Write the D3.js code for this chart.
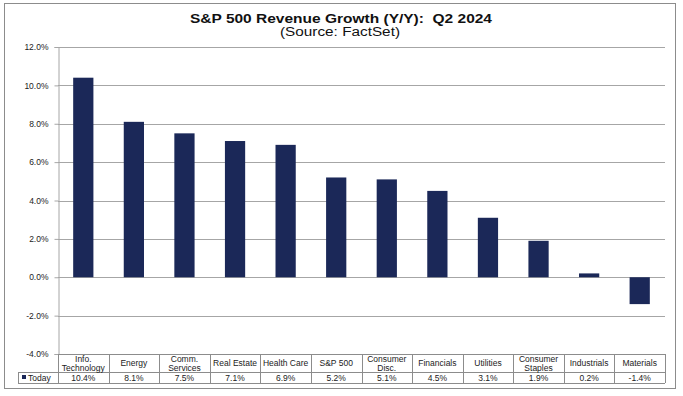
<!DOCTYPE html>
<html><head><meta charset="utf-8">
<script src="https://cdn.jsdelivr.net/npm/d3@7"></script>
<style>body{margin:0;background:#fff}svg{display:block;font-family:"Liberation Sans",Arial,sans-serif}</style>
</head><body><svg id="c" width="683" height="396"></svg>
<script>
const categories = [["Info.","Technology"],["Energy"],["Comm.","Services"],["Real Estate"],["Health Care"],["S&P 500"],["Consumer","Disc."],["Financials"],["Utilities"],["Consumer","Staples"],["Industrials"],["Materials"]];
const values = [10.4, 8.1, 7.5, 7.1, 6.9, 5.2, 5.1, 4.5, 3.1, 1.9, 0.2, -1.4];
const valueLabels = ["10.4%","8.1%","7.5%","7.1%","6.9%","5.2%","5.1%","4.5%","3.1%","1.9%","0.2%","-1.4%"];
const yTicks = [-4, -2, 0, 2, 4, 6, 8, 10, 12];
const seriesName = "Today";
const title = "S&P 500 Revenue Growth (Y/Y):  Q2 2024";
const subtitle = "(Source: FactSet)";

const svg = d3.select("#c");
const L = 58, R = 665, T = 47, B = 354;
const barColor = "#1b2858", grid = "#a6a6a6";

svg.append("rect").attr("x",4.5).attr("y",3.5).attr("width",671).attr("height",385)
  .attr("fill","#fff").attr("stroke","#8c8c8c");

svg.append("text").attr("x",341).attr("y",22.5).attr("text-anchor","middle")
  .attr("font-size",13.5).attr("font-weight","bold").attr("fill","#111")
  .style("white-space","pre").attr("textLength",302).attr("lengthAdjust","spacingAndGlyphs").text(title);
svg.append("text").attr("x",340).attr("y",36).attr("text-anchor","middle")
  .attr("font-size",12.5).attr("fill","#111")
  .attr("textLength",120).attr("lengthAdjust","spacingAndGlyphs").text(subtitle);

const x = d3.scaleBand().domain(d3.range(values.length)).range([L, R]).paddingInner(0.6).paddingOuter(0.3);
const xc = d3.scaleBand().domain(d3.range(values.length)).range([L, R]);
const y = d3.scaleLinear().domain([-4, 12]).range([B, T]);

// gridlines
svg.append("g").selectAll("line").data(yTicks).join("line")
  .attr("x1", L).attr("x2", R).attr("y1", d=>Math.round(y(d))+0.5).attr("y2", d=>Math.round(y(d))+0.5)
  .attr("stroke", grid).attr("stroke-width",1);

// y axis
const ya = svg.append("g").attr("transform",`translate(${L+0.5},0)`)
  .call(d3.axisLeft(y).tickValues(yTicks).tickSize(4).tickPadding(6).tickFormat(d=>d.toFixed(1)+"%"));
ya.select(".domain").attr("stroke", grid);
ya.selectAll(".tick line").attr("stroke", grid);
ya.selectAll(".tick text").attr("font-size",8.5).attr("fill","#222").attr("font-family","Liberation Sans, Arial, sans-serif");

// bars
svg.append("g").selectAll("rect").data(values).join("rect")
  .attr("x",(d,i)=>x(i)).attr("width",x.bandwidth())
  .attr("y",d=>y(Math.max(0,d))).attr("height",d=>Math.abs(y(d)-y(0)))
  .attr("fill",barColor);

// data table
const tTop = 354, tMid = 372, tBot = 383, tLeft = 18;
const tg = svg.append("g").attr("stroke","#8c8c8c").attr("fill","none");
tg.append("line").attr("x1",L).attr("x2",R).attr("y1",tTop+0.5).attr("y2",tTop+0.5);
tg.append("line").attr("x1",tLeft).attr("x2",R).attr("y1",tMid+0.5).attr("y2",tMid+0.5);
tg.append("line").attr("x1",tLeft).attr("x2",R).attr("y1",tBot+0.5).attr("y2",tBot+0.5);
tg.append("line").attr("x1",tLeft+0.5).attr("x2",tLeft+0.5).attr("y1",tMid).attr("y2",tBot);
tg.selectAll(".v").data(d3.range(values.length+1)).join("line")
  .attr("x1",i=>Math.round(i<values.length?xc(i):R)+0.5).attr("x2",i=>Math.round(i<values.length?xc(i):R)+0.5)
  .attr("y1",tTop).attr("y2",tBot);

const cat = svg.append("g").attr("font-size",8.5).attr("fill","#222").attr("text-anchor","middle");
categories.forEach((lines,i)=>{
  const cx = xc(i)+xc.bandwidth()/2;
  const n = lines.length;
  lines.forEach((s,j)=>{
    cat.append("text").attr("x",cx).attr("y", n===1 ? 366 : 362 + j*8.5).text(s);
  });
  cat.append("text").attr("x",cx).attr("y",381).text(valueLabels[i]);
});
svg.append("rect").attr("x",22).attr("y",375).attr("width",4).attr("height",4).attr("fill",barColor);
svg.append("text").attr("x",28).attr("y",381).attr("font-size",8.5).attr("fill","#222").text(seriesName);
</script></body></html>
